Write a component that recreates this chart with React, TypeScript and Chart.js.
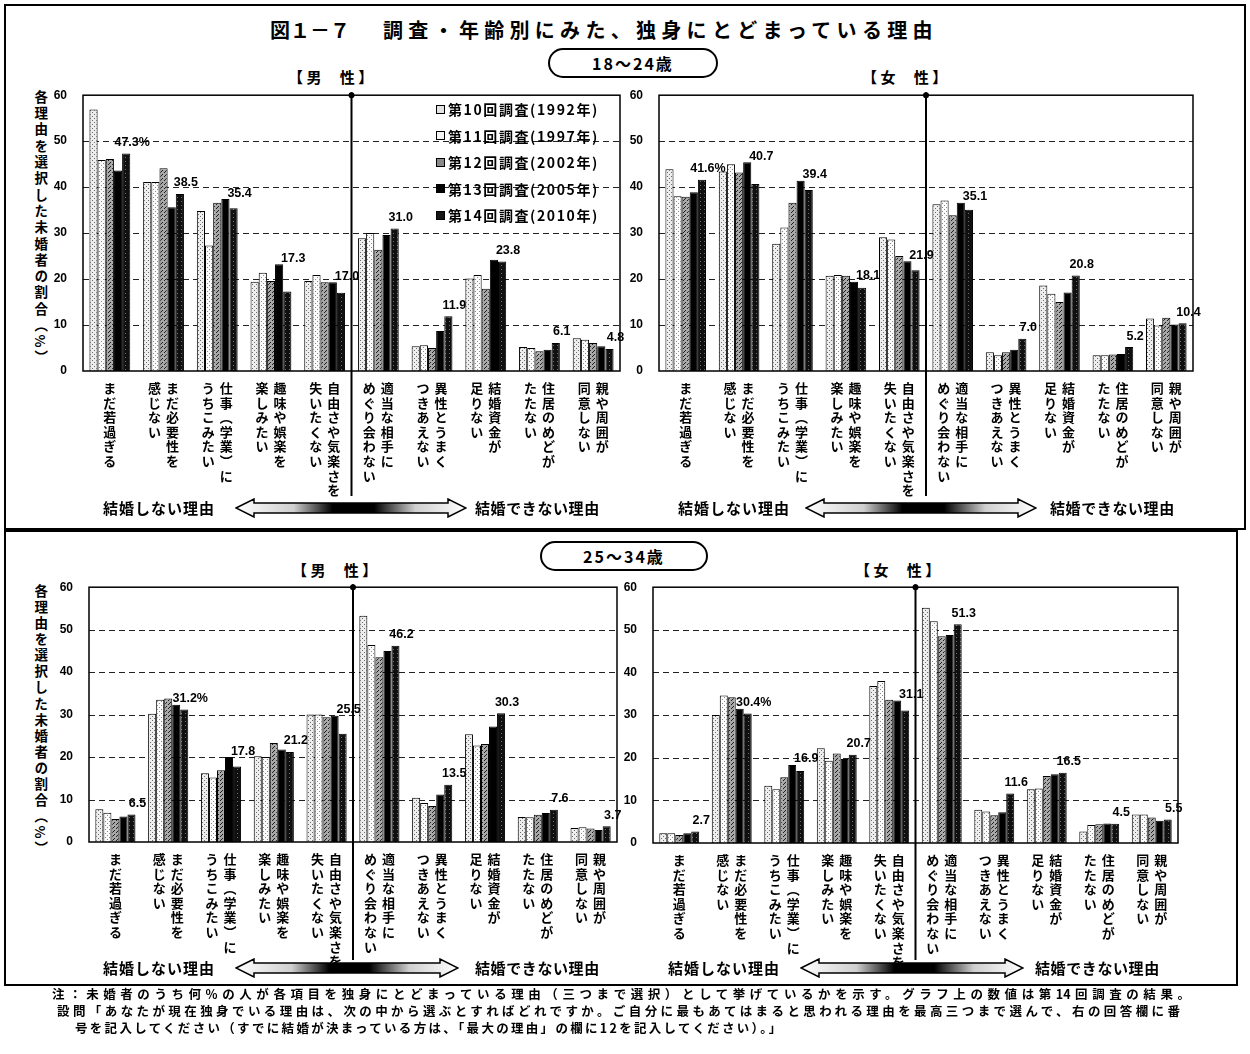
import React, { useEffect, useRef } from "react";
import { Chart, registerables } from "chart.js";
Chart.register(...registerables);

// ---------- DATA ----------
const categories: string[][] = [
  ["まだ若過ぎる"],
  ["まだ必要性を", "感じない"],
  ["仕事︵学業︶に", "うちこみたい"],
  ["趣味や娯楽を", "楽しみたい"],
  ["自由さや気楽さを", "失いたくない"],
  ["適当な相手に", "めぐり会わない"],
  ["異性とうまく", "つきあえない"],
  ["結婚資金が", "足りない"],
  ["住居のめどが", "たたない"],
  ["親や周囲が", "同意しない"],
];
const seriesNames = [
  "第10回調査(1992年)",
  "第11回調査(1997年)",
  "第12回調査(2002年)",
  "第13回調査(2005年)",
  "第14回調査(2010年)",
];
const yTickValues = [0, 10, 20, 30, 40, 50, 60];
const gridValues = [10, 20, 30, 40, 50];

// 18-24 male
const m1824_1992 = [56.9, 41.1, 34.8, 19.4, 19.6, 28.9, 5.4, 20.1, 5.2, 7.1];
const m1824_1997 = [45.9, 41.1, 27.3, 21.4, 20.9, 30.0, 5.6, 20.9, 5.0, 6.8];
const m1824_2002 = [46.1, 44.1, 36.6, 19.6, 19.3, 26.4, 5.0, 17.9, 4.3, 6.1];
const m1824_2005 = [43.6, 35.6, 37.4, 23.2, 19.3, 29.6, 8.7, 24.2, 4.6, 5.4];
const m1824_2010 = [47.3, 38.5, 35.4, 17.3, 17.0, 31.0, 11.9, 23.8, 6.1, 4.8];
// 18-24 female
const f1824_1992 = [43.9, 43.4, 27.7, 20.7, 29.1, 36.3, 4.1, 18.6, 3.4, 11.4];
const f1824_1997 = [38.0, 45.0, 31.2, 20.9, 28.6, 37.1, 3.4, 16.8, 3.4, 9.9];
const f1824_2002 = [37.9, 43.2, 36.6, 20.7, 25.0, 33.9, 4.1, 15.0, 3.6, 11.6];
const f1824_2005 = [38.9, 45.4, 41.4, 19.4, 23.9, 36.6, 4.6, 17.1, 3.7, 10.1];
const f1824_2010 = [41.6, 40.7, 39.4, 18.1, 21.9, 35.1, 7.0, 20.8, 5.2, 10.4];
// 25-34 male
const m2534_1992 = [7.7, 30.2, 16.2, 20.2, 30.0, 53.3, 10.4, 25.4, 5.9, 3.3];
const m2534_1997 = [6.9, 33.5, 15.2, 20.0, 30.0, 46.4, 9.2, 22.7, 5.8, 3.5];
const m2534_2002 = [5.4, 33.8, 16.9, 23.3, 29.4, 43.5, 8.5, 23.1, 6.4, 3.2];
const m2534_2005 = [6.0, 32.3, 20.0, 21.8, 29.7, 45.0, 11.2, 27.2, 6.8, 2.8];
const m2534_2010 = [6.5, 31.2, 17.8, 21.2, 25.5, 46.2, 13.5, 30.3, 7.6, 3.7];
// 25-34 female
const f2534_1992 = [2.3, 30.0, 13.4, 22.2, 36.8, 55.2, 7.8, 12.6, 2.7, 6.7];
const f2534_1997 = [2.3, 34.6, 12.6, 19.3, 38.0, 52.0, 7.4, 12.8, 4.2, 6.7];
const f2534_2002 = [1.9, 34.2, 15.4, 21.0, 33.6, 48.5, 6.5, 15.7, 4.4, 6.0];
const f2534_2005 = [2.3, 31.5, 18.3, 19.7, 33.4, 48.8, 7.2, 16.1, 4.6, 5.2];
const f2534_2010 = [2.7, 30.4, 16.9, 20.7, 31.1, 51.3, 11.6, 16.5, 4.5, 5.5];

// ---------- STYLE ----------
const JP = "'Noto Sans CJK JP', 'Noto Sans', sans-serif";

function makePattern(bg: string, dot: string, pts: number[][], size = 4) {
  const c = document.createElement("canvas");
  c.width = size;
  c.height = size;
  const x = c.getContext("2d")!;
  x.fillStyle = bg;
  x.fillRect(0, 0, size, size);
  x.fillStyle = dot;
  pts.forEach(([a, b]) => x.fillRect(a, b, 1, 1));
  return x.createPattern(c, "repeat")!;
}

function makeFills() {
  return [
    makePattern("#eeeeee", "#6a6a6a", [[0, 0], [2, 2]]),
    makePattern("#fbfbfb", "#8a8a8a", [[1, 1], [3, 3]]),
    makePattern("#a8a8a8", "#1e1e1e", [[0, 0], [2, 2], [1, 3]]),
    "#000000",
    makePattern("#101010", "#707070", [[1, 1]]),
  ];
}

type PanelCfg = {
  left: number;
  top: number;
  w: number;
  h: number;
  padding: { left: number; top: number; right: number; bottom: number };
  series: number[][];
  pctIndex: number;
};

const panels: PanelCfg[] = [
  {
    left: 40, top: 80, w: 590, h: 420,
    padding: { left: 13, top: 10, right: 10, bottom: 129 },
    series: [m1824_1992, m1824_1997, m1824_2002, m1824_2005, m1824_2010],
    pctIndex: 0,
  },
  {
    left: 615, top: 80, w: 590, h: 420,
    padding: { left: 14, top: 10, right: 12, bottom: 129 },
    series: [f1824_1992, f1824_1997, f1824_2002, f1824_2005, f1824_2010],
    pctIndex: 0,
  },
  {
    left: 40, top: 572, w: 590, h: 392,
    padding: { left: 19, top: 10, right: 13, bottom: 122 },
    series: [m2534_1992, m2534_1997, m2534_2002, m2534_2005, m2534_2010],
    pctIndex: 1,
  },
  {
    left: 615, top: 572, w: 590, h: 392,
    padding: { left: 8, top: 11, right: 27, bottom: 121 },
    series: [f2534_1992, f2534_1997, f2534_2002, f2534_2005, f2534_2010],
    pctIndex: 1,
  },
];

function decoPlugin(cfg: PanelCfg) {
  return {
    id: "deco",
    beforeDatasetsDraw(chart: any) {
      const { ctx, chartArea: a, scales } = chart;
      const y = scales.y;
      ctx.save();
      ctx.strokeStyle = "#222";
      ctx.lineWidth = 1;
      ctx.setLineDash([6, 4]);
      gridValues.forEach((v) => {
        const py = Math.round(y.getPixelForValue(v)) + 0.5;
        ctx.beginPath();
        ctx.moveTo(a.left, py);
        ctx.lineTo(a.right, py);
        ctx.stroke();
      });
      ctx.restore();
    },
    afterDatasetsDraw(chart: any) {
      const { ctx, chartArea: a, scales } = chart;
      const x = scales.x;
      ctx.save();
      ctx.strokeStyle = "#000";
      ctx.fillStyle = "#000";
      ctx.lineWidth = 1.5;
      ctx.strokeRect(a.left, a.top, a.right - a.left, a.bottom - a.top);
      // divider between 結婚しない理由 and 結婚できない理由
      const dx = (x.getPixelForValue(4) + x.getPixelForValue(5)) / 2;
      ctx.lineWidth = 2;
      ctx.beginPath();
      ctx.moveTo(dx, a.top - 3);
      ctx.lineTo(dx, chart.height - 4);
      ctx.stroke();
      ctx.beginPath();
      ctx.arc(dx, a.top, 3, 0, Math.PI * 2);
      ctx.fill();
      // vertical category labels
      ctx.font = `bold 13px ${JP}`;
      ctx.textAlign = "center";
      ctx.textBaseline = "middle";
      categories.forEach((cols, i) => {
        const cx = x.getPixelForValue(i);
        const n = cols.length;
        cols.forEach((col, j) => {
          const colX = cx + ((n - 1) / 2 - j) * 18;
          Array.from(col).forEach((ch, k) => {
            ctx.fillText(ch, colX, a.bottom + 17 + k * 14.6);
          });
        });
      });
      // value labels for the latest survey
      const meta5 = chart.getDatasetMeta(4);
      const meta4 = chart.getDatasetMeta(3);
      ctx.font = "bold 12.5px 'Liberation Sans', Arial, sans-serif";
      ctx.textAlign = "center";
      meta5.data.forEach((bar: any, i: number) => {
        const v = cfg.series[4][i];
        const ly = Math.min(bar.y - 11, meta4.data[i].y - 6);
        const text = v.toFixed(1) + (i === cfg.pctIndex ? "%" : "");
        ctx.fillText(text, bar.x + 6, ly);
      });
      ctx.restore();
    },
  };
}

function Panel({ cfg }: { cfg: PanelCfg }) {
  const ref = useRef<HTMLCanvasElement>(null);
  useEffect(() => {
    const fills = makeFills();
    const chart = new Chart(ref.current!, {
      type: "bar",
      data: {
        labels: categories.map((c) => c.join("")),
        datasets: cfg.series.map((d, i) => ({
          label: seriesNames[i],
          data: d,
          backgroundColor: fills[i] as any,
          borderColor: "#000",
          borderWidth: 1,
          barPercentage: 1,
          categoryPercentage: 0.76,
        })),
      },
      options: {
        animation: false,
        responsive: false,
        maintainAspectRatio: false,
        layout: { padding: cfg.padding },
        plugins: { legend: { display: false }, tooltip: { enabled: false } },
        scales: {
          x: { display: false },
          y: {
            min: 0,
            max: 60,
            afterFit: (s: any) => {
              s.width = 30;
            },
            afterBuildTicks: (s: any) => {
              s.ticks = yTickValues.map((v) => ({ value: v }));
            },
            ticks: {
              color: "#000",
              padding: 8,
              font: { family: "'Liberation Sans', Arial, sans-serif", weight: "bold", size: 12 },
            },
            grid: { display: false },
            border: { display: false },
          },
        },
      } as any,
      plugins: [decoPlugin(cfg)],
    });
    return () => chart.destroy();
  }, []);
  return (
    <canvas
      ref={ref}
      width={cfg.w}
      height={cfg.h}
      style={{ position: "absolute", left: cfg.left, top: cfg.top, width: cfg.w, height: cfg.h }}
    />
  );
}

function Arrow({ left, top, width }: { left: number; top: number; width: number }) {
  const h = 18;
  const hw = 18;
  const pts = `0,9 ${hw},0 ${hw},4 ${width - hw},4 ${width - hw},0 ${width},9 ${width - hw},18 ${width - hw},14 ${hw},14 ${hw},18`;
  const id = `g${left}_${top}`;
  return (
    <svg style={{ position: "absolute", left, top }} width={width + 2} height={h + 2}>
      <defs>
        <linearGradient id={id} x1="0" x2="1" y1="0" y2="0">
          <stop offset="0" stopColor="#ffffff" />
          <stop offset="0.25" stopColor="#cfcfcf" />
          <stop offset="0.42" stopColor="#000000" />
          <stop offset="0.6" stopColor="#000000" />
          <stop offset="0.78" stopColor="#cfcfcf" />
          <stop offset="1" stopColor="#ffffff" />
        </linearGradient>
      </defs>
      <polygon points={pts} transform="translate(1,1)" fill={`url(#${id})`} stroke="#000" strokeWidth={1.5} />
    </svg>
  );
}

const abs = (left: number, top: number, extra: React.CSSProperties = {}): React.CSSProperties => ({
  position: "absolute",
  left,
  top,
  fontFamily: JP,
  fontWeight: "bold",
  color: "#000",
  whiteSpace: "nowrap",
  lineHeight: 1,
  ...extra,
});

function ArrowRow({ y, x1, ax, aw, x2 }: { y: number; x1: number; ax: number; aw: number; x2: number }) {
  return (
    <>
      <div style={abs(x1, y - 8, { fontSize: 15, letterSpacing: 1 })}>結婚しない理由</div>
      <Arrow left={ax} top={y - 10} width={aw} />
      <div style={abs(x2, y - 8, { fontSize: 15, letterSpacing: 0.6 })}>結婚できない理由</div>
    </>
  );
}

export default function App() {
  const legendFills = ["#e4e4e4", "#f4f4f4", "#8a8a8a", "#000", "#151515"];
  return (
    <div style={{ position: "absolute", left: 0, top: 0, width: 1250, height: 1054, background: "#fff", overflow: "hidden" }}>
      {/* boxes */}
      <div style={{ position: "absolute", left: 4, top: 4, width: 1238, height: 522, border: "2px solid #000" }} />
      <div style={{ position: "absolute", left: 4, top: 530, width: 1230, height: 452, border: "2px solid #000" }} />

      {/* title */}
      <div style={abs(270, 20, { fontSize: 20 })}>図１－７</div>
      <div style={abs(383, 20, { fontSize: 20, letterSpacing: 5.3 })}>調査・年齢別にみた、独身にとどまっている理由</div>

      {/* age pills */}
      <div style={abs(548, 48, { width: 166, height: 26, border: "2px solid #000", borderRadius: 15, fontSize: 16, letterSpacing: 2, display: "flex", alignItems: "center", justifyContent: "center" })}>18～24歳</div>
      <div style={abs(540, 541, { width: 164, height: 26, border: "2px solid #000", borderRadius: 15, fontSize: 16, letterSpacing: 2, display: "flex", alignItems: "center", justifyContent: "center" })}>25～34歳</div>

      {/* sex headers */}
      <div style={abs(288, 69, { fontSize: 15 })}>【 男　 性 】</div>
      <div style={abs(862, 69, { fontSize: 15 })}>【 女　 性 】</div>
      <div style={abs(292, 562, { fontSize: 15 })}>【 男　 性 】</div>
      <div style={abs(855, 562, { fontSize: 15 })}>【 女　 性 】</div>

      {/* y axis titles */}
      <div style={abs(33, 90, { writingMode: "vertical-rl", fontSize: 13.5, letterSpacing: 2.8, lineHeight: 1.2 })}>各理由を選択した未婚者の割合（%）</div>
      <div style={abs(33, 584, { writingMode: "vertical-rl", fontSize: 13.5, letterSpacing: 2.6, lineHeight: 1.2 })}>各理由を選択した未婚者の割合（%）</div>

      {panels.map((p, i) => (
        <Panel key={i} cfg={p} />
      ))}

      {/* legend */}
      {seriesNames.map((n, i) => (
        <div key={n} style={abs(436, 102 + i * 26.5, { fontSize: 14, letterSpacing: 1.6, display: "flex", alignItems: "center" })}>
          <span style={{ display: "inline-block", width: 7, height: 7, border: "1px solid #000", background: legendFills[i], marginRight: 3 }} />
          {n}
        </div>
      ))}

      {/* arrow rows */}
      <ArrowRow y={508} x1={103} ax={235} aw={230} x2={475} />
      <ArrowRow y={508} x1={678} ax={805} aw={230} x2={1050} />
      <ArrowRow y={968} x1={103} ax={235} aw={222} x2={475} />
      <ArrowRow y={968} x1={668} ax={800} aw={222} x2={1035} />

      {/* notes */}
      <div style={abs(52, 988, { fontSize: 12.5, width: 1138, textAlign: "justify", textAlignLast: "justify" as any })}>
        注：未婚者のうち何%の人が各項目を独身にとどまっている理由（三つまで選択）として挙げているかを示す。グラフ上の数値は第14回調査の結果。
      </div>
      <div style={abs(57, 1005, { fontSize: 12.5, width: 1123, textAlign: "justify", textAlignLast: "justify" as any })}>
        設問「あなたが現在独身でいる理由は、次の中から選ぶとすればどれですか。ご自分に最もあてはまると思われる理由を最高三つまで選んで、右の回答欄に番
      </div>
      <div style={abs(75, 1022, { fontSize: 12.5, letterSpacing: 2.3 })}>
        号を記入してください（すでに結婚が決まっている方は、「最大の理由」の欄に12を記入してください）。」
      </div>
    </div>
  );
}
